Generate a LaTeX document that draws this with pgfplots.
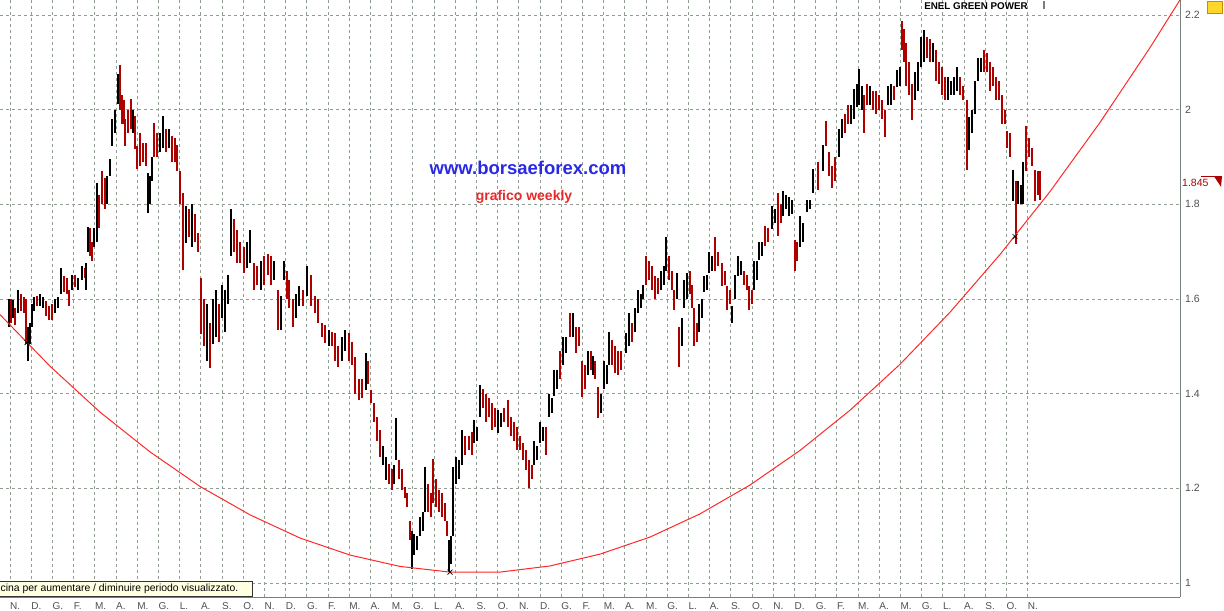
\documentclass[border=0pt]{standalone}
\usepackage{pgfplots}
\pgfplotsset{compat=1.18}
\usepackage{pgfplotstable}
\usepackage{fontspec}
\setmainfont{Liberation Sans}
\definecolor{gridgray}{RGB}{145,158,145}
\definecolor{axisgray}{RGB}{120,130,120}
\definecolor{labelgray}{RGB}{80,80,80}
\definecolor{barred}{RGB}{175,0,0}
\definecolor{trendred}{RGB}{255,40,40}
\definecolor{webblue}{RGB}{40,40,230}
\definecolor{webred}{RGB}{235,40,40}
\definecolor{tipyellow}{RGB}{255,255,225}

\pgfplotstableread{
x lo hi
9 1.54 1.60
13 1.56 1.597
18 1.57 1.619
28 1.469 1.54
30 1.505 1.55
32 1.54 1.59
34 1.575 1.605
40 1.585 1.61
43 1.58 1.605
55 1.57 1.60
58 1.58 1.605
61 1.61 1.665
72 1.62 1.65
78 1.62 1.645
82 1.64 1.67
86 1.62 1.675
88 1.70 1.753
94 1.71 1.75
97 1.72 1.845
107 1.80 1.86
110 1.86 1.895
112 1.923 1.98
115 1.95 2.00
118 2.012 2.076
133 1.95 2.00
148 1.782 1.867
150 1.80 1.86
152 1.85 1.90
160 1.91 1.95
163 1.92 1.987
169 1.92 1.96
186 1.718 1.796
192 1.71 1.80
207 1.47 1.59
213 1.505 1.60
216 1.52 1.62
222 1.56 1.63
225 1.53 1.62
228 1.59 1.65
231 1.69 1.79
247 1.665 1.72
250 1.675 1.745
261 1.62 1.68
274 1.64 1.68
281 1.535 1.606
284 1.64 1.68
296 1.56 1.61
299 1.585 1.627
307 1.606 1.67
329 1.50 1.535
342 1.47 1.52
345 1.49 1.535
366 1.408 1.486
383 1.25 1.29
386 1.217 1.266
394 1.21 1.25
396 1.26 1.348
412 1.03 1.11
414 1.06 1.104
417 1.07 1.10
420 1.10 1.14
423 1.11 1.15
425 1.15 1.245
449 1.023 1.09
451 1.04 1.10
453 1.10 1.245
456 1.21 1.266
459 1.22 1.26
462 1.25 1.323
474 1.295 1.344
477 1.30 1.33
480 1.35 1.418
498 1.316 1.365
501 1.33 1.36
534 1.25 1.30
537 1.26 1.29
540 1.295 1.34
543 1.30 1.33
549 1.35 1.40
552 1.36 1.39
554 1.394 1.45
557 1.41 1.45
563 1.46 1.52
566 1.485 1.52
573 1.52 1.57
588 1.44 1.49
593 1.44 1.48
601 1.36 1.40
604 1.41 1.47
607 1.42 1.46
609 1.46 1.53
626 1.485 1.528
629 1.50 1.57
635 1.53 1.58
638 1.57 1.62
641 1.58 1.61
643 1.60 1.63
661 1.62 1.66
664 1.63 1.67
666 1.66 1.73
677 1.60 1.655
682 1.50 1.56
684 1.58 1.64
687 1.60 1.655
699 1.53 1.59
702 1.56 1.60
704 1.615 1.648
707 1.62 1.65
709 1.655 1.70
712 1.66 1.69
732 1.55 1.585
735 1.60 1.65
738 1.648 1.69
741 1.65 1.68
754 1.62 1.68
757 1.64 1.68
759 1.683 1.72
762 1.69 1.72
772 1.747 1.796
775 1.76 1.79
783 1.775 1.828
786 1.79 1.82
789 1.775 1.815
792 1.78 1.81
800 1.71 1.775
803 1.72 1.76
807 1.783 1.81
810 1.79 1.81
813 1.825 1.874
823 1.87 1.925
839 1.90 1.96
842 1.94 1.98
851 1.97 2.01
854 1.98 2.044
857 2.006 2.055
859 2.01 2.085
862 2.00 2.05
870 2.01 2.05
888 2.01 2.05
891 2.01 2.055
897 2.048 2.083
900 2.05 2.09
915 2.02 2.08
918 2.04 2.10
921 2.09 2.154
924 2.10 2.168
933 2.10 2.14
948 2.02 2.07
951 2.03 2.06
954 2.03 2.07
957 2.04 2.09
969 1.914 1.985
972 1.95 2.00
975 1.99 2.06
978 2.06 2.11
981 2.08 2.11
1013 1.808 1.872
1018 1.80 1.85
1021 1.80 1.84
1023 1.80 1.89
}\blackbars

\pgfplotstableread{
x lo hi
11 1.55 1.60
15 1.545 1.58
21 1.575 1.61
24 1.57 1.605
26 1.505 1.60
37 1.585 1.607
46 1.565 1.595
49 1.555 1.585
52 1.555 1.59
64 1.615 1.648
67 1.61 1.645
69 1.585 1.62
75 1.625 1.65
85 1.645 1.665
90 1.69 1.75
92 1.68 1.72
99 1.75 1.82
102 1.80 1.87
105 1.79 1.855
120 2.00 2.095
122 1.97 2.03
124 1.97 2.02
125 1.923 1.98
128 1.95 2.00
131 1.96 2.023
135 1.916 1.987
137 1.874 1.923
140 1.88 1.95
143 1.89 1.93
146 1.88 1.93
154 1.90 1.972
157 1.90 1.95
166 1.91 1.96
172 1.89 1.945
175 1.89 1.94
177 1.87 1.925
180 1.80 1.87
183 1.661 1.824
189 1.73 1.79
195 1.72 1.78
198 1.70 1.74
201 1.526 1.644
204 1.50 1.60
210 1.455 1.55
219 1.51 1.59
234 1.70 1.77
237 1.675 1.746
240 1.675 1.72
244 1.655 1.71
254 1.62 1.675
257 1.63 1.67
264 1.63 1.69
268 1.65 1.696
271 1.63 1.69
278 1.535 1.62
287 1.60 1.66
289 1.58 1.64
293 1.54 1.60
303 1.585 1.62
311 1.585 1.65
315 1.57 1.606
318 1.55 1.60
322 1.52 1.55
325 1.507 1.545
332 1.50 1.53
335 1.47 1.528
338 1.457 1.50
349 1.47 1.528
352 1.46 1.51
355 1.40 1.478
359 1.387 1.43
362 1.39 1.43
368 1.42 1.47
371 1.38 1.408
374 1.34 1.38
377 1.30 1.35
380 1.266 1.323
389 1.21 1.252
392 1.196 1.24
399 1.22 1.26
402 1.196 1.24
405 1.18 1.203
407 1.16 1.19
410 1.09 1.132
428 1.15 1.21
431 1.14 1.19
433 1.17 1.263
436 1.16 1.22
439 1.15 1.196
442 1.14 1.19
445 1.13 1.17
447 1.10 1.13
465 1.27 1.31
469 1.28 1.31
472 1.27 1.32
483 1.37 1.41
486 1.34 1.40
489 1.35 1.39
492 1.323 1.38
495 1.33 1.37
504 1.34 1.37
508 1.33 1.387
511 1.31 1.35
514 1.30 1.34
517 1.28 1.33
520 1.28 1.31
523 1.26 1.295
526 1.238 1.28
529 1.20 1.26
532 1.22 1.25
546 1.27 1.33
560 1.43 1.49
570 1.52 1.57
576 1.485 1.54
579 1.50 1.54
582 1.394 1.47
585 1.41 1.46
591 1.45 1.49
595 1.43 1.47
598 1.348 1.415
612 1.46 1.514
615 1.443 1.50
618 1.44 1.49
621 1.45 1.49
632 1.51 1.55
646 1.63 1.69
649 1.64 1.68
652 1.62 1.67
655 1.60 1.648
658 1.61 1.645
669 1.64 1.69
672 1.62 1.66
674 1.577 1.62
679 1.457 1.54
690 1.61 1.66
692 1.58 1.63
694 1.50 1.58
697 1.51 1.55
715 1.66 1.73
718 1.67 1.70
722 1.627 1.676
725 1.63 1.66
727 1.577 1.627
730 1.59 1.62
744 1.63 1.66
747 1.62 1.65
749 1.577 1.627
752 1.59 1.62
765 1.712 1.754
768 1.72 1.75
778 1.733 1.825
781 1.76 1.80
795 1.66 1.725
797 1.68 1.72
818 1.83 1.89
826 1.924 1.977
829 1.86 1.91
832 1.835 1.88
835 1.85 1.90
845 1.95 1.99
848 1.97 2.01
864 1.95 2.03
867 2.01 2.055
873 2.00 2.04
876 1.99 2.04
879 2.00 2.03
882 1.98 2.02
885 1.942 2.00
894 2.02 2.05
902 2.126 2.188
904 2.10 2.17
906 2.05 2.14
909 2.03 2.10
912 1.978 2.055
927 2.11 2.154
930 2.10 2.15
936 2.06 2.126
939 2.055 2.10
942 2.03 2.09
945 2.02 2.07
960 2.03 2.07
963 2.02 2.05
967 1.872 2.02
984 2.08 2.126
987 2.08 2.12
990 2.04 2.10
993 2.05 2.09
996 2.02 2.07
999 2.02 2.06
1002 1.97 2.03
1005 1.97 2.00
1007 1.92 1.955
1010 1.90 1.95
1016 1.716 1.85
1026 1.87 1.965
1029 1.90 1.94
1032 1.88 1.92
1035 1.808 1.872
1038 1.82 1.87
1040 1.81 1.87
}\redbars

\begin{document}
\begin{tikzpicture}
\useasboundingbox (0,-14bp) rectangle (1224bp,597bp);
\begin{axis}[
  at={(0,0)}, anchor=south west, scale only axis,
  width=1180bp, height=597bp,
  xmin=0, xmax=1180, ymin=0.9704, ymax=2.2317,
  axis x line*=bottom, axis y line*=right,
  axis line style={draw=axisgray, line width=1bp},
  xtick={10,31.2,52.4,73.6,94.8,116,137.2,158.4,179.6,200.8,222,243.2,264.4,285.6,306.8,328,349.2,370.4,391.6,412.8,434,455.2,476.4,497.6,518.8,540,561.2,582.4,603.6,624.8,646,667.2,688.4,709.6,730.8,752,773.2,794.4,815.6,836.8,858,879.2,900.4,921.6,942.8,964,985.2,1006.4,1027.6},
  xticklabels={N.,D.,G.,F.,M.,A.,M.,G.,L.,A.,S.,O.,N.,D.,G.,F.,M.,A.,M.,G.,L.,A.,S.,O.,N.,D.,G.,F.,M.,A.,M.,G.,L.,A.,S.,O.,N.,D.,G.,F.,M.,A.,M.,G.,L.,A.,S.,O.,N.},
  ytick={1,1.2,1.4,1.6,1.8,2,2.2},
  yticklabels={1,1.2,1.4,1.6,1.8,2,2.2},
  major tick length=0pt,
  xticklabel style={anchor=north west, inner sep=0pt, yshift=-5bp, font=\fontsize{10bp}{11bp}\selectfont, text=labelgray},
  yticklabel style={anchor=west, inner sep=0pt, xshift=5bp, font=\fontsize{10.5bp}{12bp}\selectfont, text=labelgray},
  grid=major,
  major grid style={draw=gridgray, dash pattern=on 3bp off 3bp, line width=0.9bp},
  clip mode=individual,
]
\addplot[draw=none, mark=none, error bars/.cd, y dir=both, y explicit, error mark=none,
  error bar style={draw=barred, line width=2.7bp}]
  table[x=x, y expr={(\thisrow{lo}+\thisrow{hi})/2}, y error expr={(\thisrow{hi}-\thisrow{lo})/2}] {\redbars};
\addplot[draw=none, mark=none, error bars/.cd, y dir=both, y explicit, error mark=none,
  error bar style={draw=black, line width=2.5bp}]
  table[x=x, y expr={(\thisrow{lo}+\thisrow{hi})/2}, y error expr={(\thisrow{hi}-\thisrow{lo})/2}] {\blackbars};

\addplot[trendred, line width=1bp, mark=none] coordinates {
(0,1.567) (50,1.458) (100,1.361) (150,1.277) (200,1.204) (250,1.144)
(300,1.095) (350,1.059) (400,1.035) (450,1.023) (500,1.023) (550,1.036)
(600,1.061) (650,1.097) (700,1.146) (750,1.207) (800,1.280) (850,1.365)
(900,1.462) (950,1.572) (1000,1.694) (1050,1.827) (1100,1.973) (1150,2.131) (1180,2.232)};

\addplot[only marks, mark=x, mark size=3.5bp, black, line width=0.7bp] coordinates {(27,1.508) (450,1.023) (1015,1.732)};

\node[font=\bfseries\fontsize{18.5bp}{20bp}\selectfont, text=webblue, inner sep=0pt] at (axis cs:528,1.876) {www.borsaeforex.com};
\node[font=\bfseries\fontsize{14bp}{16bp}\selectfont, text=webred, inner sep=0pt] at (axis cs:524,1.815) {grafico weekly};
\node[font=\bfseries\fontsize{9.8bp}{11bp}\selectfont, text=black, inner sep=0pt] at (axis cs:976,2.219) {ENEL GREEN POWER};
\draw[axisgray, line width=1.5bp] (axis cs:1044,2.212) -- (axis cs:1044,2.229);

\node[anchor=west, inner sep=0pt, font=\fontsize{10.5bp}{12bp}\selectfont, text=barred] at (axis cs:1182,1.845) {1.845};
\draw[barred, line width=0.8bp] (axis cs:1201,1.859) -- (axis cs:1222,1.859);
\fill[barred] (axis cs:1214,1.859) -- (axis cs:1222,1.859) -- (axis cs:1221,1.837) -- cycle;
\draw[draw={rgb,255:red,200;green,140;blue,0}, fill={rgb,255:red,255;green,215;blue,40}, line width=0.8bp] (axis cs:1207,2.203) rectangle (axis cs:1222,2.229);

\draw[draw=black!80, fill=tipyellow, line width=0.8bp] (axis cs:-2,0.9725) rectangle (axis cs:252,1.0042);
\node[anchor=west, inner sep=0pt, font=\fontsize{10.4bp}{12bp}\selectfont] at (axis cs:0.5,0.9885) {cina per aumentare / diminuire periodo visualizzato.};
\end{axis}
\end{tikzpicture}
\end{document}
